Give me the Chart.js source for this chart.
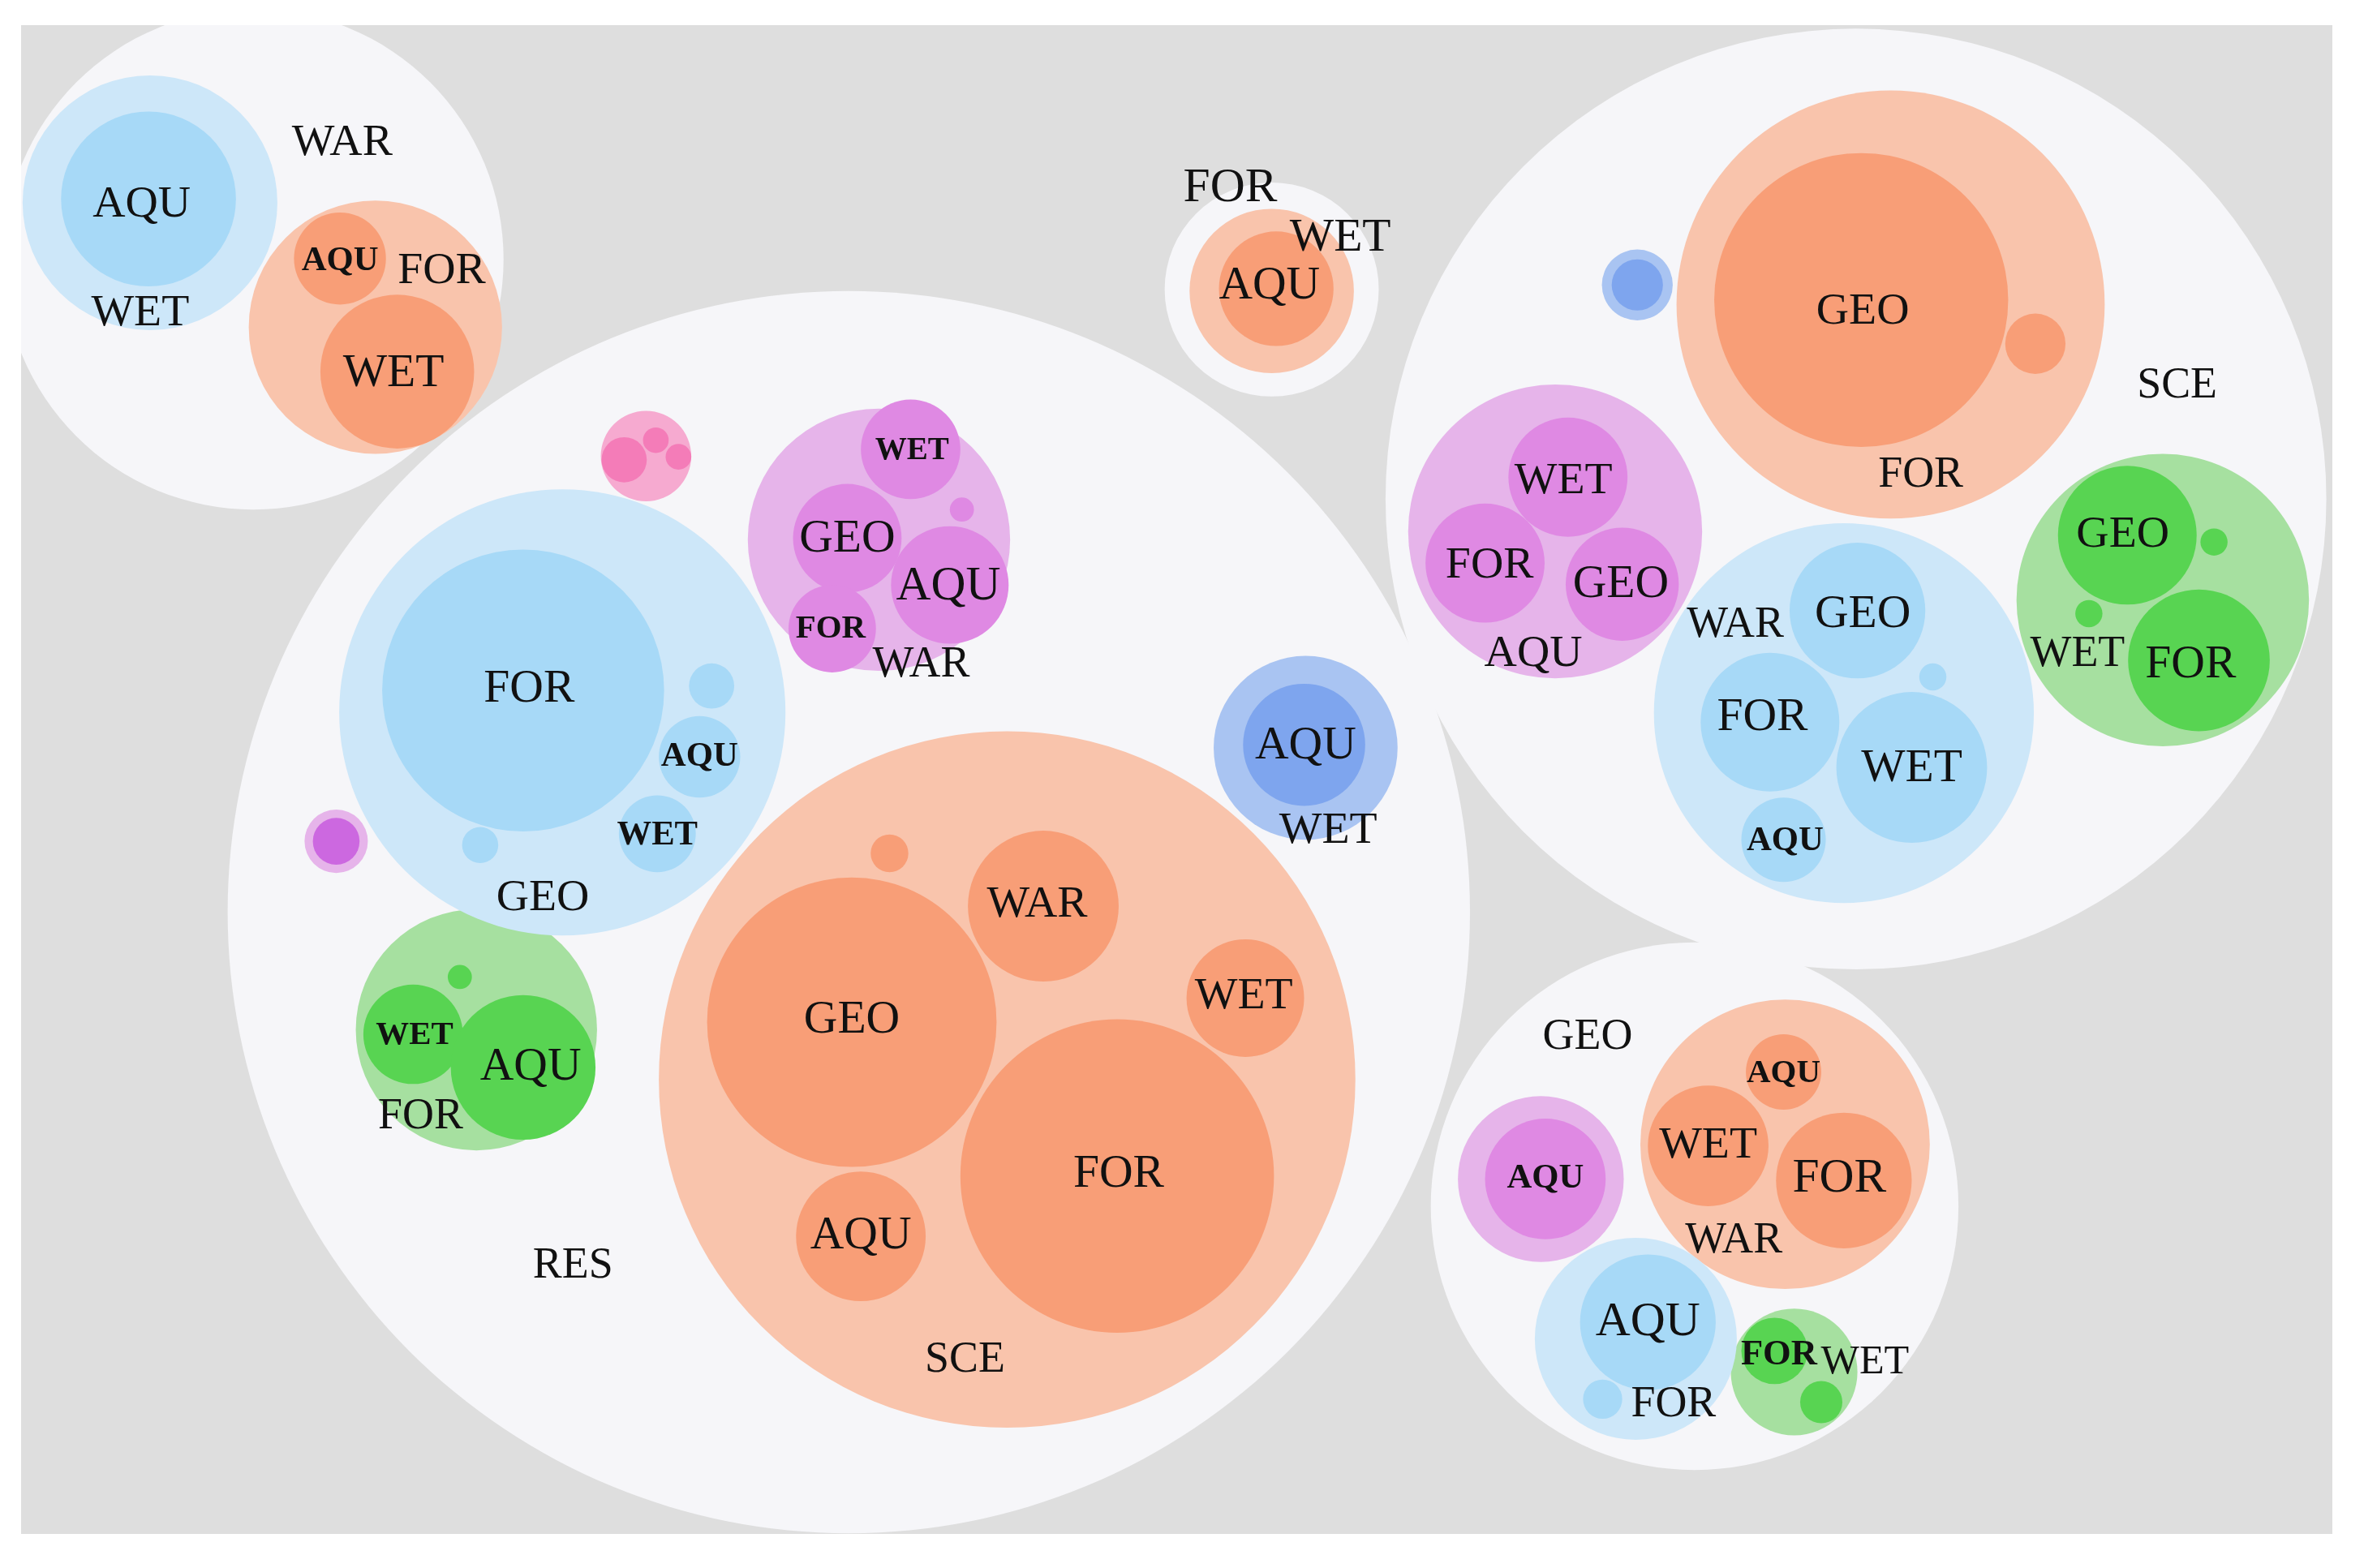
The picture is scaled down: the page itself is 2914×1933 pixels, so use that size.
<!DOCTYPE html>
<html>
<head>
<meta charset="utf-8">
<title>Circle packing</title>
<script src="https://cdn.jsdelivr.net/npm/chart.js@4.4.1/dist/chart.umd.min.js"></script>
<style>
  html, body { margin: 0; padding: 0; background: #ffffff; }
  #frame { position: absolute; left: 26px; top: 31px; width: 2849px; height: 1860px; background: #dedede; }
</style>
</head>
<body>
<div id="frame"><canvas id="js--chart"></canvas></div>
<script>
// circles as [x, y, r] (picture units, y down)
const whiteCircles = [
    [168, 172, 166], [843.5, 192, 71], [563, 605, 412], [1231, 331, 312], [1124, 800, 175]
];
const lightBlue = [
    [99.5, 134.5, 84.5], [373, 472.5, 148], [1223, 473, 126], [1085, 888, 67]
];
const blue = [
    [98.5, 132, 58], [347, 458, 93.5], [472, 455, 15], [464, 502, 27], [436, 553, 25.5], [318.5, 560.5, 12],
    [1232, 405, 45], [1174, 479, 46], [1268, 509, 50], [1183, 557, 28], [1282, 449, 9],
    [1093, 877, 45], [1063, 928, 13]
];
const lightOrange = [
    [249, 217, 84], [843.5, 193, 54.5], [668, 716, 231], [1254, 202, 142], [1184, 759, 96]
];
const orange = [
    [225.5, 171.5, 30.5], [263.5, 246.5, 51], [846.5, 191.5, 38],
    [565, 678, 96], [741, 780, 104], [692, 601, 50], [826, 662, 39], [571, 820, 43], [590, 566, 12.5],
    [1234.5, 199, 97.5], [1350, 228, 20],
    [1183, 711, 25], [1133, 760, 40], [1223, 783, 45]
];
const lightPurple = [
    [583, 358, 87], [223, 558, 21], [1031.5, 352.5, 97.5], [1022, 782, 55]
];
const purple = [
    [604, 298, 33], [562, 357, 36], [630, 388, 39], [552, 417, 29], [638, 338, 8],
    [1040, 316.5, 39.5], [985, 373.5, 39.5], [1076, 387.5, 37.5],
    [1025, 782, 40]
];
const darkPurple = [
    [223, 558, 15.5]
];
const lightGreen = [
    [316, 683, 80], [1434.5, 398, 97], [1190, 910, 42]
];
const green = [
    [274, 686, 33], [347, 708, 48], [305, 648, 8],
    [1411, 355, 46], [1458.5, 438, 47], [1468.5, 359.5, 9], [1385.5, 407, 9],
    [1177, 896, 22], [1208, 930, 14]
];
const lightPink = [
    [428.5, 302.5, 30]
];
const pink = [
    [414, 305, 15], [435, 292, 8.5], [450, 303, 8.5]
];
const lightIndigo = [
    [866, 496, 61], [1086, 189, 23.5]
];
const indigo = [
    [865, 494, 40.5], [1086, 189, 17]
];

// labels: [text, x, y, size]
const labels = [
    ["WAR", 227, 95, 30], ["AQU", 94, 136, 30], ["WET", 93, 208, 30],
    ["AQU", 225.5, 173, 23], ["FOR", 293, 180, 30], ["WET", 261, 248, 31],
    ["FOR", 816, 125, 32], ["WET", 889, 158, 31], ["AQU", 842, 190, 31],
    ["RES", 380, 840, 29],
    ["WET", 605, 299, 21], ["GEO", 562, 358, 31], ["AQU", 629, 389, 32], ["FOR", 551, 417, 22], ["WAR", 611, 441, 29],
    ["FOR", 351, 457, 31], ["AQU", 464, 502, 23], ["WET", 436, 554, 23], ["GEO", 360, 596, 30],
    ["AQU", 866, 495, 31], ["WET", 881, 551, 30],
    ["WET", 275, 687, 22], ["AQU", 352, 708, 31], ["FOR", 279, 741, 29],
    ["WAR", 688, 600, 30], ["GEO", 565, 677, 31], ["WET", 825, 661, 30], ["FOR", 742, 779, 31],
    ["AQU", 571, 820, 31], ["SCE", 640, 902, 29],
    ["GEO", 1235.5, 207, 30], ["SCE", 1444, 256, 29], ["FOR", 1274, 315, 29],
    ["WET", 1037, 319, 30], ["FOR", 988, 375, 30], ["GEO", 1075, 388, 31], ["AQU", 1017, 434, 30],
    ["WAR", 1151, 415, 29], ["GEO", 1235.5, 408, 31], ["FOR", 1169, 476, 31], ["WET", 1268, 510, 31], ["AQU", 1184, 558, 23],
    ["GEO", 1408, 355, 30], ["WET", 1378, 434, 29], ["FOR", 1453, 441, 31],
    ["GEO", 1053, 688, 29], ["AQU", 1183, 712, 22], ["WET", 1133, 760, 30], ["FOR", 1220, 782, 32],
    ["WAR", 1150, 823, 29], ["AQU", 1025, 782, 23], ["AQU", 1093, 877, 32], ["FOR", 1110, 932, 29],
    ["FOR", 1180, 899, 24], ["WET", 1237, 904, 27]
];

const layers = [
    { name: "groups", circles: whiteCircles, color: "#f6f6f9", level: 0 },
    { name: "blue", circles: lightBlue, color: "#cde7f9", level: 1 },
    { name: "orange", circles: lightOrange, color: "#f9c4ac", level: 1 },
    { name: "purple", circles: lightPurple, color: "#e6b4ea", level: 1 },
    { name: "green", circles: lightGreen, color: "#a6e0a0", level: 1 },
    { name: "pink", circles: lightPink, color: "#f6aad0", level: 1 },
    { name: "indigo", circles: lightIndigo, color: "#a9c4f2", level: 1 },
    { name: "blue2", circles: blue, color: "#a7d9f7", level: 2 },
    { name: "orange2", circles: orange, color: "#f89e77", level: 2 },
    { name: "purple2", circles: purple, color: "#df89e3", level: 2 },
    { name: "purple3", circles: darkPurple, color: "#cc68e0", level: 2 },
    { name: "green2", circles: green, color: "#58d452", level: 2 },
    { name: "pink2", circles: pink, color: "#f47cb8", level: 2 },
    { name: "indigo2", circles: indigo, color: "#7ea5ee", level: 2 }
];

// radius in pixels, read through the x scale
function radiusFromScale(ctx) {
    const sc = ctx.chart.scales.x;
    const d = ctx.raw;
    if (!sc || !d) return 0;
    const r = Math.abs(sc.getPixelForValue(d.x + d.size) - sc.getPixelForValue(d.x));
    return Number.isFinite(r) ? r : 0;
}

const datasets = layers.map(function(layer) {
    return {
        label: layer.name,
        data: layer.circles.map(function(c) { return { x: c[0], y: c[1], size: c[2] }; }),
        showLine: false,
        pointBackgroundColor: layer.color,
        pointBorderWidth: 0,
        pointRadius: radiusFromScale,
        pointHoverRadius: radiusFromScale,
        order: 10 - layer.level
    };
});

const labelPlugin = {
    id: "circleLabels",
    afterDatasetsDraw: function(chart) {
        const ctx = chart.ctx;
        const sx = chart.scales.x, sy = chart.scales.y;
        const unit = Math.abs(sx.getPixelForValue(1) - sx.getPixelForValue(0));
        ctx.save();
        ctx.fillStyle = "#111111";
        ctx.textAlign = "center";
        ctx.textBaseline = "middle";
        labels.forEach(function(l) {
            const size = l[3] * unit;
            ctx.font = (l[3] < 25 ? "bold " : "") + size.toFixed(1) + "px 'Liberation Serif', 'DejaVu Serif', serif";
            ctx.fillText(l[0], sx.getPixelForValue(l[1]), sy.getPixelForValue(l[2]));
        });
        ctx.restore();
    }
};

const config = {
    type: "scatter",
    data: { datasets: datasets },
    options: {
        responsive: true,
        maintainAspectRatio: false,
        animation: false,
        events: [],
        layout: { padding: 0 },
        plugins: { legend: { display: false }, tooltip: { enabled: false } },
        scales: {
            x: { type: "linear", min: 14, max: 1547, display: false },
            y: { type: "linear", min: 16.7, max: 1017.4, reverse: true, display: false }
        }
    },
    plugins: [labelPlugin]
};

const chart1 = new Chart(document.getElementById("js--chart"), config);
</script>
</body>
</html>
